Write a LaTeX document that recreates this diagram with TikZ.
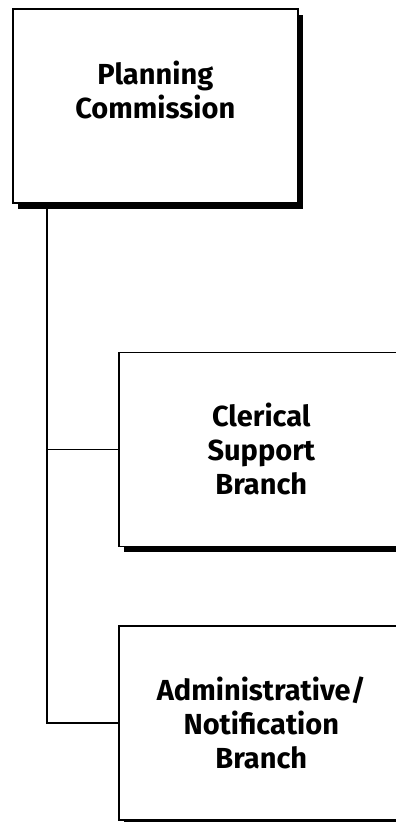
\documentclass[tikz,border=0pt]{standalone}
\usepackage{fontspec}
\setsansfont{Fira Sans}
\usetikzlibrary{positioning,calc,shadows}
\tikzset{
  unit/.style={draw, line width=1.6pt, fill=white, minimum width=285pt, minimum height=194pt,
    inner sep=0pt, align=center, font=\sffamily\bfseries\fontsize{29}{34}\selectfont,
    drop shadow={shadow xshift=5pt, shadow yshift=-6pt, opacity=1, fill=black}},
  lbl/.style={align=center, font=\sffamily\bfseries\fontsize{29}{34}\selectfont},
  wire/.style={line width=1.4pt},
}

\begin{document}
\begin{tikzpicture}[x=1pt, y=-1pt]
  \useasboundingbox (0,0) rectangle (396,822);
  % commission on top
  \node[unit, anchor=north west] (pc) at (12,8) {};
  \node[lbl] (pcText) at ($(pc.center)+(0,-16)$) {Planning\\Commission};
  % branches
  \node[unit, anchor=north west] (csb) at ($(pc.south west)+(106,148)$) {Clerical\\Support\\Branch};
  \node[unit, below=78pt of csb] (anb) {Administrative/\\Notification\\Branch};
  % trunk line
  \coordinate (trunk) at ($(pc.south west)+(35,0)$);
  \draw[wire] (trunk) |- (csb.west);
  \draw[wire] (trunk) |- (anb.west);
\end{tikzpicture}
\end{document}
